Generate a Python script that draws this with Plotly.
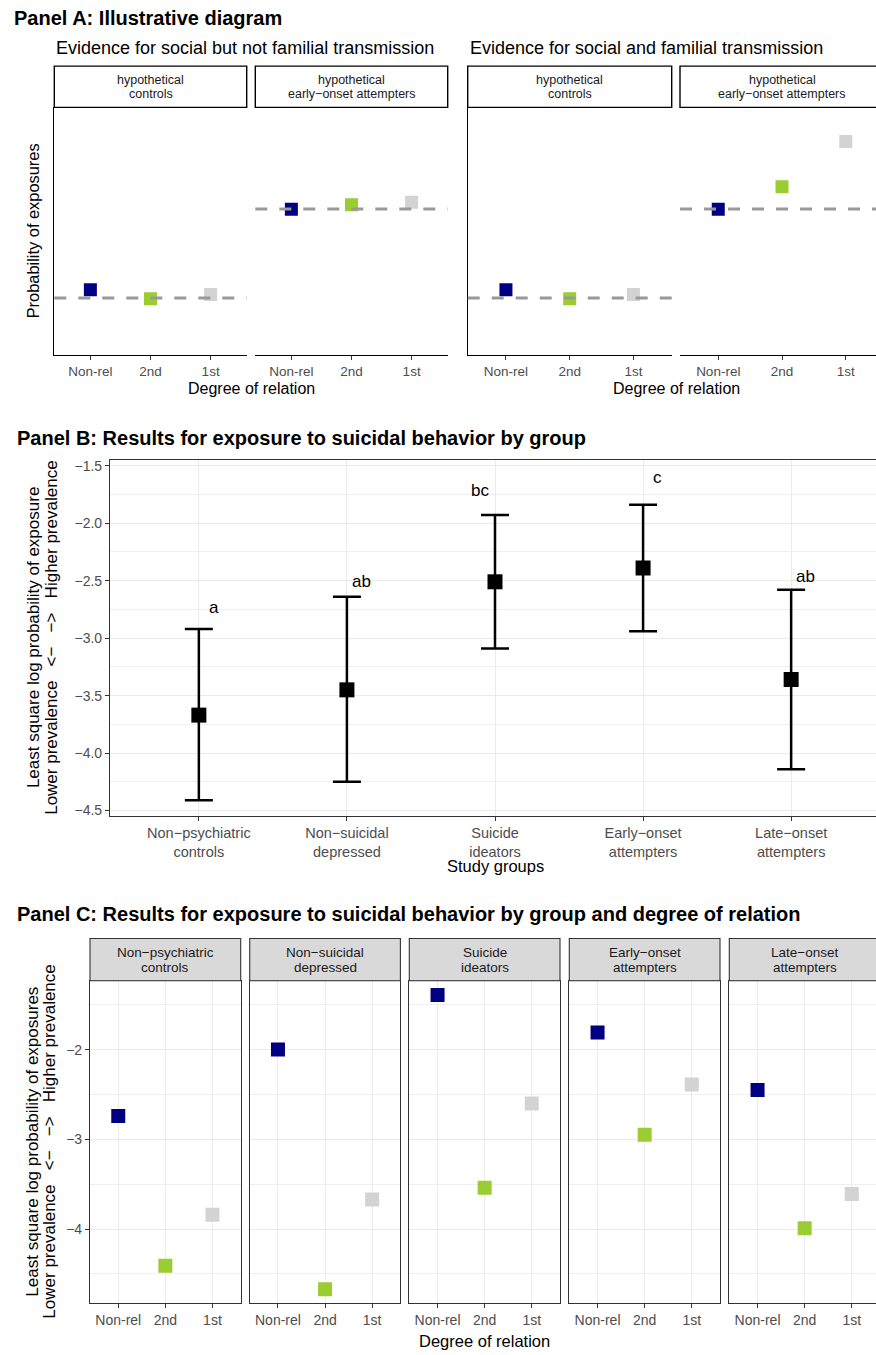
import plotly.graph_objects as go

W, H = 876, 1355
FONT = "Liberation Sans, Arial, Helvetica, sans-serif"

# ------------------------------------------------------------------ data
relations = ["Non-rel", "2nd", "1st"]
relation_colors = ["#000080", "#9ACD32", "#D3D3D3"]

# Panel A (illustrative, arbitrary probability units)
panelA_subtitles = ["Evidence for social but not familial transmission",
                    "Evidence for social and familial transmission"]
panelA_strips = ["hypothetical\ncontrols", "hypothetical\nearly−onset attempters",
                 "hypothetical\ncontrols", "hypothetical\nearly−onset attempters"]
social_controls = [0.263, 0.227, 0.244]
social_attempters = [0.589, 0.607, 0.617]
familial_controls = [0.263, 0.227, 0.244]
familial_attempters = [0.589, 0.679, 0.862]
panelA_values = [social_controls, social_attempters, familial_controls, familial_attempters]
panelA_baseline = [0.23, 0.59, 0.23, 0.59]

# Panel B
groups = ["Non−psychiatric\ncontrols", "Non−suicidal\ndepressed", "Suicide\nideators",
          "Early−onset\nattempters", "Late−onset\nattempters"]
groupB_mean = [-3.67, -3.45, -2.51, -2.39, -3.36]
groupB_upper = [-2.92, -2.64, -1.93, -1.84, -2.58]
groupB_lower = [-4.41, -4.25, -3.09, -2.94, -4.14]
groupB_letters = ["a", "ab", "bc", "c", "ab"]
groupB_letter_y = [-2.73, -2.51, -1.72, -1.60, -2.46]

# Panel C (Non-rel, 2nd, 1st) per group
c_nonpsych = [-2.74, -4.41, -3.84]
c_nonsuicidal = [-2.00, -4.67, -3.67]
c_ideators = [-1.39, -3.54, -2.60]
c_early = [-1.81, -2.95, -2.39]
c_late = [-2.45, -3.99, -3.61]
panelC_values = [c_nonpsych, c_nonsuicidal, c_ideators, c_early, c_late]

# ------------------------------------------------------------------ helpers
def dom_x(x0, x1, r0, r1):
    if x1 > W:
        r1 = r0 + (r1 - r0) * (W - x0) / (x1 - x0)
        x1 = W
    return [x0 / W, x1 / W], [r0, r1]

def dom_y(top, bottom):
    return [1 - bottom / H, 1 - top / H]

def name(prefix, n):
    return prefix + ("" if n == 1 else str(n))

annotations = []
shapes = []

def ann(text, px, py, size, color="black", xanchor="center", angle=0, bold=False):
    annotations.append(dict(
        text=("<b>%s</b>" % text) if bold else text,
        x=px / W, y=1 - py / H, xref="paper", yref="paper",
        xanchor=xanchor, yanchor="middle", showarrow=False, textangle=angle,
        font=dict(family=FONT, size=size, color=color)))

def strip(x0, x1, top, bottom, label, fill, line_color, line_w, size):
    shapes.append(dict(type="rect", xref="paper", yref="paper",
                       x0=x0 / W, x1=x1 / W, y0=1 - bottom / H, y1=1 - top / H,
                       fillcolor=fill, line=dict(color=line_color, width=line_w),
                       layer="above"))
    lines = label.split("\n")
    lh = size * 1.13
    cy = (top + bottom) / 2
    cx = (x0 + x1) / 2
    for k, ln in enumerate(lines):
        ann(ln, cx, cy + (k - (len(lines) - 1) / 2) * lh, size, "#1A1A1A")

fig = go.Figure()
layout = {}

# ------------------------------------------------------------------ Panel A
A_x_px = [(54.3, 246.7), (255.3, 447.7), (467.7, 671.7), (680.0, 884.0)]
A_top, A_bot = 105.7, 354.0
for i, (x0, x1) in enumerate(A_x_px):
    n = i + 1
    xd, xr = dom_x(x0, x1, 0.4, 3.6)
    layout[name("xaxis", n)] = dict(
        domain=xd, range=xr, anchor=name("y", n), tickvals=[1, 2, 3], ticktext=relations,
        showline=True, linecolor="black", linewidth=1.1, ticks="outside", ticklen=4,
        tickcolor="#333333", tickwidth=1.1, showgrid=False, zeroline=False,
        tickfont=dict(family=FONT, size=13.5, color="#4D4D4D"))
    layout[name("yaxis", n)] = dict(
        domain=dom_y(A_top, A_bot), range=[0, 1], anchor=name("x", n),
        showline=(i % 2 == 0), linecolor="black", linewidth=1.1, ticks="",
        showticklabels=False, showgrid=False, zeroline=False)
    fig.add_trace(go.Scatter(
        x=[1, 2, 3], y=panelA_values[i], mode="markers",
        marker=dict(symbol="square", size=13, color=relation_colors, line=dict(width=0)),
        xaxis=name("x", n), yaxis=name("y", n), showlegend=False, hoverinfo="skip"))
    shapes.append(dict(type="line", xref=name("x", n) + " domain", yref=name("y", n),
                       x0=0, x1=1, y0=panelA_baseline[i], y1=panelA_baseline[i],
                       line=dict(color="#999999", width=3, dash="12px,12px"), layer="above"))
    strip(x0, x1, 64.3, A_top, panelA_strips[i], "white", "black", 1.4, 12.5)

ann("Panel A: Illustrative diagram", 12, 16, 20, bold=True, xanchor="left")
ann(panelA_subtitles[0], 54.3, 45.7, 18, xanchor="left")
ann(panelA_subtitles[1], 467.7, 45.7, 18, xanchor="left")
ann("Degree of relation", 251, 388, 16)
ann("Degree of relation", 676, 388, 16)
ann("Probability of exposures", 33, 230, 16.4, angle=-90)

# ------------------------------------------------------------------ Panel B
B_top, B_bot = 459.3, 816.7
xd, xr = dom_x(110, 880, 0.4, 5.6)
xpos = list(range(1, len(groups) + 1))
layout["xaxis5"] = dict(
    domain=xd, range=xr, anchor="y5", tickvals=xpos,
    ticktext=[g.replace("\n", "<br>") for g in groups],
    showline=True, mirror=True, linecolor="#333333", linewidth=1.1,
    ticks="outside", ticklen=4, tickcolor="#333333", tickwidth=1.1,
    showgrid=True, gridcolor="#EBEBEB", gridwidth=1.1, zeroline=False,
    ticklabelstandoff=-1,
    tickfont=dict(family=FONT, size=14.5, color="#4D4D4D"))
layout["yaxis5"] = dict(
    domain=dom_y(B_top, B_bot), range=[-4.55, -1.45], anchor="x5",
    tick0=-1.5, dtick=0.5, tickformat=".1f",
    showline=True, mirror=False, linecolor="#333333", linewidth=1.1,
    ticks="outside", ticklen=4, tickcolor="#333333", tickwidth=1.1,
    showgrid=True, gridcolor="#EBEBEB", gridwidth=1.1, zeroline=False,
    minor=dict(tick0=-1.5, dtick=0.25, showgrid=True, gridcolor="#EFEFEF", gridwidth=0.6),
    tickfont=dict(family=FONT, size=14, color="#4D4D4D"))
fig.add_trace(go.Scatter(
    x=xpos, y=groupB_mean, mode="markers",
    marker=dict(symbol="square", size=15, color="black"),
    error_y=dict(type="data", symmetric=False,
                 array=[u - m for u, m in zip(groupB_upper, groupB_mean)],
                 arrayminus=[m - l for m, l in zip(groupB_mean, groupB_lower)],
                 color="black", thickness=2.5, width=14),
    xaxis="x5", yaxis="y5", showlegend=False, hoverinfo="skip"))
letter_dx = [0.1, 0.1, -0.1, 0.1, 0.1]
for k, (lab, ly) in enumerate(zip(groupB_letters, groupB_letter_y)):
    annotations.append(dict(text=lab, x=xpos[k] + letter_dx[k], y=ly, xref="x5", yref="y5",
                            showarrow=False, xanchor="center", yanchor="middle",
                            font=dict(family=FONT, size=17, color="black")))

ann("Panel B: Results for exposure to suicidal behavior by group", 15, 437, 20,
    bold=True, xanchor="left")
ann("Least square log probability of exposure", 33, 638, 17, angle=-90)
ann("Lower prevalence\u00a0\u00a0 <−\u00a0\u00a0 −>\u00a0\u00a0 Higher prevalence", 50.7, 638, 17, angle=-90)
ann("Study groups", 495, 866.7, 16.5)

# ------------------------------------------------------------------ Panel C
C_x_px = [(90, 240.7), (249.7, 400.4), (409.3, 560.0), (569.3, 720.0), (729.3, 880.0)]
C_top, C_bot = 981.7, 1305.0
for i, (x0, x1) in enumerate(C_x_px):
    n = 6 + i
    xd, xr = dom_x(x0, x1, 0.4, 3.6)
    layout[name("xaxis", n)] = dict(
        domain=xd, range=xr, anchor=name("y", n), tickvals=[1, 2, 3], ticktext=relations,
        showline=True, mirror=True, linecolor="#333333", linewidth=1.1,
        ticks="outside", ticklen=4, tickcolor="#333333", tickwidth=1.1,
        showgrid=True, gridcolor="#EBEBEB", gridwidth=1.1, zeroline=False,
        tickfont=dict(family=FONT, size=14, color="#4D4D4D"))
    layout[name("yaxis", n)] = dict(
        domain=dom_y(C_top, C_bot), range=[-4.826, -1.233], anchor=name("x", n),
        tick0=-2, dtick=1,
        showline=True, mirror=(i < 4), linecolor="#333333", linewidth=1.1,
        ticks="outside" if i == 0 else "", ticklen=4, tickcolor="#333333", tickwidth=1.1,
        showticklabels=(i == 0),
        showgrid=True, gridcolor="#EBEBEB", gridwidth=1.1, zeroline=False,
        minor=dict(tick0=-2, dtick=0.5, showgrid=True, gridcolor="#EFEFEF", gridwidth=0.6),
        tickfont=dict(family=FONT, size=14, color="#4D4D4D"))
    fig.add_trace(go.Scatter(
        x=[1, 2, 3], y=panelC_values[i], mode="markers",
        marker=dict(symbol="square", size=14, color=relation_colors, line=dict(width=0)),
        xaxis=name("x", n), yaxis=name("y", n), showlegend=False, hoverinfo="skip"))
    strip(x0, x1, 939.3, C_top, groups[i], "#D9D9D9", "#333333", 1.1, 13.5)

ann("Panel C: Results for exposure to suicidal behavior by group and degree of relation",
    15, 915, 20, bold=True, xanchor="left")
ann("Least square log probability of exposures", 33, 1143, 17, angle=-90)
ann("Lower prevalence\u00a0\u00a0 <−\u00a0\u00a0 −>\u00a0\u00a0 Higher prevalence", 50, 1143, 17, angle=-90)
ann("Degree of relation", 485, 1343, 16.5)

fig.update_layout(
    width=W, height=H, margin=dict(l=0, r=0, t=0, b=0),
    paper_bgcolor="white", plot_bgcolor="white",
    font=dict(family=FONT), showlegend=False,
    annotations=annotations, shapes=shapes, **layout)

fig.write_html("out.html", config={"displayModeBar": False},
               post_script="document.body.style.margin='0px';"
                           "document.body.style.overflow='hidden';")
